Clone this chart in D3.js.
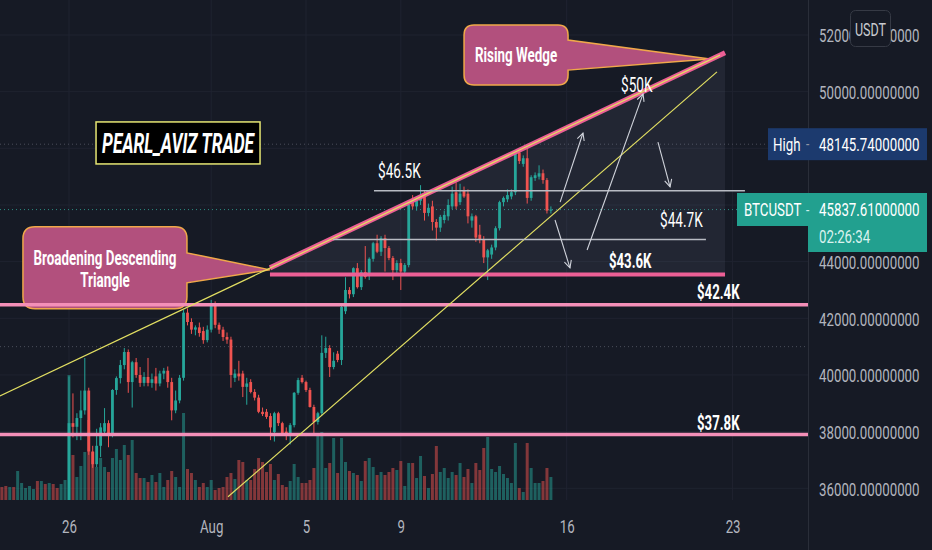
<!DOCTYPE html>
<html>
<head>
<meta charset="utf-8">
<script src="https://cdn.jsdelivr.net/npm/d3@7.9.0/dist/d3.min.js"></script>
<style>
  html, body { margin: 0; padding: 0; background: #161a25; overflow: hidden; }
  svg { display: block; }
  text { font-family: Roboto, "Noto Sans", sans-serif; }
</style>
</head>
<body>
<svg id="chart" width="932" height="550"></svg>
<script>
// ---------------------- Data ----------------------
// BTCUSDT 4h candles, first one opens 2021-07-23 04:00
const candleStart = '2021-07-23T04:00';
const candleHours = 4;

// [open, high, low, close]
const ohlc = [
  [32300, 32500, 32050, 32100], [32100, 32250, 31900, 32000], [32000, 32400, 31950, 32300],
  [32300, 32450, 32150, 32200], [32200, 33400, 32150, 33300], [33300, 33700, 33200, 33600],
  [33600, 33800, 33450, 33700], [33700, 33900, 33500, 33800], [33800, 34000, 33650, 33900],
  [33900, 34000, 33300, 33450], [33450, 34100, 33400, 34000], [34000, 34100, 33750, 33850],
  [33850, 34300, 33800, 34200], [34200, 34300, 33900, 34000], [34000, 34100, 33800, 33900],
  [33900, 34500, 33850, 34400], [34400, 35500, 34300, 35400],
  // Jul 26
  [35400, 39950, 35250, 38300], [38300, 39350, 37800, 38170], [38170, 38650, 37700, 38480],
  [38480, 39450, 37700, 38750], [38750, 40600, 38600, 39450], [39450, 39550, 37180, 37300],
  [37300, 37500, 36720, 36850], [36850, 38100, 36750, 37500], [37500, 38300, 37100, 38150],
  [38000, 38830, 37900, 38300], [38300, 38400, 37450, 37880], [37880, 39500, 37800, 39470],
  [39470, 39950, 39300, 39890], [39890, 40530, 39700, 40350], [40350, 40950, 40200, 40810],
  [40810, 40900, 39370, 39750], [39750, 40500, 38850, 40450], [40450, 40600, 39900, 40000],
  [40000, 40280, 39580, 39720], [39720, 40100, 39600, 39930], [39930, 40600, 39600, 39720],
  [39720, 40050, 39550, 39850], [39950, 40250, 39450, 39700], [39700, 40150, 39600, 40050],
  [40050, 40250, 39850, 40150], [40150, 40300, 39550, 39750], [39750, 39900, 38400, 38750],
  [38750, 39450, 38650, 39100], [39100, 40000, 39000, 39900], [39900, 42300, 39800, 42200],
  [42200, 42350, 41750, 41870], [41870, 42000, 41450, 41600], [41600, 41750, 41400, 41680],
  [41680, 41850, 41350, 41480], [41550, 41700, 41100, 41230], [41230, 41750, 41150, 41600],
  // Aug 1
  [41600, 42650, 41500, 42450], [42450, 42600, 41650, 41770], [41770, 41850, 41450, 41600],
  [41600, 41700, 41200, 41340], [41340, 41500, 41100, 41250], [41250, 41350, 39550, 40000],
  [39900, 40200, 39750, 40050], [40050, 40500, 39800, 39950], [40050, 40150, 39220, 39580],
  [39580, 39900, 38950, 39700], [39750, 39850, 39350, 39400], [39400, 39500, 39100, 39200],
  [39200, 39300, 38650, 38700], [38700, 38850, 38550, 38620], [38700, 38800, 38450, 38520],
  [38550, 38650, 37700, 38150], [37980, 38700, 37650, 38650], [38650, 38700, 38200, 38300],
  [38300, 38350, 37850, 37950], [38000, 38150, 37700, 37950], [37950, 38300, 37550, 38230],
  [38230, 39400, 38150, 39370], [39370, 39900, 39300, 39820], [39900, 40000, 39700, 39750],
  [39750, 39800, 39400, 39470], [39470, 39550, 38850, 38870], [38870, 38950, 37950, 38340],
  [38340, 38700, 38250, 38650], [38650, 41400, 38550, 40780], [40780, 41350, 40600, 40950],
  [40950, 41050, 39930, 40280], [40280, 40800, 40200, 40500], [40750, 40850, 40450, 40530],
  [40530, 42450, 40350, 42400], [42250, 43450, 42150, 43000], [43000, 43100, 42700, 42850],
  [42850, 43800, 42750, 43770], [43770, 43950, 43050, 43100], [43100, 43700, 43000, 43630],
  [43630, 44550, 43400, 43460], [43600, 44150, 43350, 44100], [44100, 44700, 44000, 44650],
  [44650, 44950, 44300, 44350], [44350, 44900, 44200, 44830], [44830, 44950, 43650, 44480],
  [44480, 44550, 44050, 44130], [44130, 44200, 43350, 43700], [43700, 44050, 43600, 43950],
  [43950, 44100, 43000, 43650], [43650, 43950, 43550, 43880], [43880, 46150, 43800, 46000],
  [46100, 46350, 45850, 45950], [45950, 46250, 45800, 46150], [46150, 46700, 46000, 46300],
  [46350, 46500, 45450, 45720], [45720, 46050, 45600, 45900], [45950, 46150, 45100, 45400],
  [45400, 45500, 44750, 45200], [45200, 45650, 45050, 45580], [45470, 45800, 45350, 45650],
  [45600, 46200, 45450, 46000], [45950, 46650, 45850, 46400], [46450, 46800, 45850, 45950],
  [46100, 46750, 46000, 46400], [46500, 46650, 46250, 46300], [46400, 46550, 45350, 45600],
  [45450, 45700, 45200, 45600], [45600, 45650, 44700, 44850], [44950, 45300, 44650, 44800],
  [44800, 44900, 43950, 44150], [44150, 44450, 43350, 44400], [44250, 44600, 44100, 44500],
  [44500, 45250, 44400, 45180], [45180, 46150, 45100, 46100], [46100, 46300, 45950, 46250],
  [46200, 46550, 46100, 46350], [46300, 46550, 46200, 46450], [46450, 47900, 46350, 47850],
  [47850, 47950, 47450, 47550], [47450, 47750, 47350, 47650], [47650, 48145.74, 46050, 46250],
  [46250, 47050, 46150, 46980], [46950, 47150, 46850, 47050], [47000, 47400, 46900, 47120],
  [47120, 47250, 46750, 46880], [46880, 46950, 45700, 45800], [45800, 45950, 45700, 45837.61]
];

const volumes = [
  1300, 1400, 1300, 1300, 2900, 1700, 1200, 1400, 1100, 1900, 1900, 1600, 1700, 1600, 1200, 1600, 2000,
  12500, 4500, 2300, 3400, 4800, 8000, 4800, 3300, 4200, 3300,
  2800, 4200, 5100, 4000, 5500, 4500, 6000, 2700, 2200, 2200,
  1800, 2500, 1800, 2700, 1300, 2000, 2900, 2300, 1300, 8700,
  3100, 2700, 2000, 1300, 1700, 1300, 2000, 1000, 1200, 1300,
  2300, 2700, 2100, 4000, 3800, 2000, 2000, 3100, 4200, 3800,
  2800, 3600, 2000, 2600, 1500, 1300, 1900, 3600, 2300, 1700,
  1700, 2000, 3200, 6500, 6800, 3200, 3700, 6200, 2700, 6200,
  3800, 2900, 2700, 2500, 1900, 3900, 4200, 3300, 2500, 2800,
  2500, 2800, 3200, 3000, 3900, 1400, 3700, 3700, 2200, 4400,
  2400, 1200, 2600, 5400, 2800, 3200, 2200, 2800, 2500, 3700,
  2300, 3100, 1700, 3700, 3000, 5200, 6300, 3100, 2800, 3400,
  2600, 2200, 1700, 5700, 1200, 800, 5700, 3200, 1700, 1700,
  1900, 3200, 2300
];

const priceTicks = [36000, 38000, 40000, 42000, 44000, 46000, 48000, 50000, 52000];
const timeTicks = ['2021-07-26T00:00', '2021-08-01T00:00', '2021-08-05T00:00', '2021-08-09T00:00', '2021-08-16T00:00', '2021-08-23T00:00'];
const timeLabels = ['26', 'Aug', '5', '9', '16', '23'];

const highPrice = 48145.74;
const lastPrice = 45837.61;
const lastCountdown = '02:26:34';
const dottedLevel = 41000;

// drawings: [time, price]
const wedgeUpper = [['2021-08-03T11:30', 43780], ['2021-08-22T16:20', 51370]];
const wedgeBase = [['2021-08-03T11:30', 43550], ['2021-08-22T16:20', 43550]];
const trendUpper = [['2021-07-23T02:00', 39260], ['2021-08-22T11:15', 51290]];
const trendLower = [['2021-08-01T17:00', 35700], ['2021-08-22T08:10', 50700]];
const supportLevels = [42480, 37900];
const rangeLines = [
  ['2021-08-07T20:50', '2021-08-23T12:30', 46500],
  ['2021-08-06T03:20', '2021-08-21T21:00', 44780]
];
const arrowPaths = [
  [['2021-08-15T17:20', 46100], ['2021-08-16T16:30', 48540]],
  [['2021-08-16T20:40', 44410], ['2021-08-19T05:20', 49920]],
  [['2021-08-19T20:25', 48220], ['2021-08-20T08:40', 46640]],
  [['2021-08-15T12:10', 45470], ['2021-08-16T03:20', 43780]]
];
const priceNotes = [
  { text: '$50K', at: ['2021-08-18T07:00', 50000], bold: false },
  { text: '$46.5K', at: ['2021-08-08T01:00', 46950], bold: false },
  { text: '$44.7K', at: ['2021-08-19T22:30', 45220], bold: false },
  { text: '$43.6K', at: ['2021-08-17T18:45', 43780], bold: true },
  { text: '$42.4K', at: ['2021-08-21T12:00', 42680], bold: true },
  { text: '$37.8K', at: ['2021-08-21T12:00', 38060], bold: true }
];
const callouts = [
  { lines: ['Rising Wedge'], tip: ['2021-08-22T01:10', 51150] },
  { lines: ['Broadening Descending', 'Triangle'], tip: ['2021-08-03T11:30', 43710] }
];
const watermark = { text: 'PEARL_AVIZ TRADE', at: ['2021-07-30T14:25', 48190] };

// ---------------------- Setup ----------------------
const plotRight = 808, plotBottom = 500;
const svg = d3.select('#chart');
const T = s => new Date(s);

const x = d3.scaleTime()
  .domain([T('2021-07-26T00:00'), T('2021-08-16T00:00')])
  .range([69, 566.7]);
const y = d3.scaleLinear().domain([36000, 52000]).range([488.3, 35]);
const yVol = d3.scaleLinear().domain([0, d3.max(volumes)]).range([plotBottom, 375]);

const step = candleHours * 3600 * 1000;
const candles = ohlc.map(([o, h, l, c], i) => ({
  t: new Date(+T(candleStart) + i * step), o, h, l, c, v: volumes[i], up: c >= o
}));

const px = p => x(T(p[0]));
const py = p => y(p[1]);

function label(g, lx, ly, str, o = {}) {
  return g.append('text')
    .attr('transform', `translate(${lx},${ly}) scale(${o.sx ?? 0.68},1)`)
    .attr('text-anchor', o.anchor ?? 'start')
    .attr('font-size', o.size ?? 20)
    .attr('font-weight', o.weight ?? 400)
    .attr('font-style', o.style ?? 'normal')
    .attr('fill', o.fill ?? '#ffffff')
    .text(str);
}

svg.append('rect').attr('width', 932).attr('height', 550).attr('fill', '#161a25');

const defs = svg.append('defs');
defs.append('clipPath').attr('id', 'plot-clip')
  .append('rect').attr('width', plotRight).attr('height', plotBottom);
defs.append('marker')
  .attr('id', 'arrow').attr('viewBox', '0 0 10 10')
  .attr('refX', 9).attr('refY', 5)
  .attr('markerWidth', 9).attr('markerHeight', 9)
  .attr('markerUnits', 'userSpaceOnUse').attr('orient', 'auto')
  .append('path').attr('d', 'M1,1 L9,5 L1,9')
  .attr('fill', 'none').attr('stroke', '#d1d4dc').attr('stroke-width', 1.2);

const plot = svg.append('g').attr('clip-path', 'url(#plot-clip)');

// ---------------------- Grid ----------------------
plot.append('g').selectAll('line').data(priceTicks).join('line')
  .attr('x1', 0).attr('x2', plotRight)
  .attr('y1', d => y(d)).attr('y2', d => y(d))
  .attr('stroke', '#1f2330').attr('stroke-width', 1);
plot.append('g').selectAll('line').data(timeTicks).join('line')
  .attr('x1', d => x(T(d))).attr('x2', d => x(T(d)))
  .attr('y1', 0).attr('y2', plotBottom)
  .attr('stroke', '#1f2330').attr('stroke-width', 1);

plot.append('g').selectAll('line').data([highPrice, lastPrice, dottedLevel]).join('line')
  .attr('x1', 0).attr('x2', plotRight)
  .attr('y1', d => y(d)).attr('y2', d => y(d))
  .attr('stroke', (d, i) => i === 1 ? '#2c8a80' : '#4a4e5a')
  .attr('stroke-dasharray', '1,3').attr('stroke-width', 1);

// ---------------------- Wedge shading ----------------------
plot.append('path')
  .attr('d', d3.line()([
    [px(wedgeUpper[0]), py(wedgeUpper[0])],
    [px(wedgeUpper[1]), py(wedgeUpper[1])],
    [px(wedgeBase[1]), py(wedgeBase[1])],
    [px(wedgeBase[0]), py(wedgeBase[0])]
  ]) + 'Z')
  .attr('fill', 'rgba(160,170,195,0.09)');

// ---------------------- Volume ----------------------
plot.append('g').selectAll('rect').data(candles).join('rect')
  .attr('x', d => x(d.t) - 1.5)
  .attr('width', 3)
  .attr('y', d => yVol(d.v))
  .attr('height', d => plotBottom - yVol(d.v))
  .attr('fill', d => d.up ? 'rgba(38,166,154,0.5)' : 'rgba(239,83,80,0.5)');

// ---------------------- Candles ----------------------
const cg = plot.append('g').selectAll('g').data(candles).join('g');
cg.append('line')
  .attr('x1', d => x(d.t)).attr('x2', d => x(d.t))
  .attr('y1', d => y(d.h)).attr('y2', d => y(d.l))
  .attr('stroke', d => d.up ? '#26a69a' : '#ef5350').attr('stroke-width', 1);
cg.append('rect')
  .attr('x', d => x(d.t) - 1.4)
  .attr('width', 2.8)
  .attr('y', d => y(Math.max(d.o, d.c)))
  .attr('height', d => Math.max(1, Math.abs(y(d.o) - y(d.c))))
  .attr('fill', d => d.up ? '#26a69a' : '#ef5350');

// ---------------------- Callouts ----------------------
const calloutBoxes = [
  { dx0: -246, dx1: -142, dy0: -34, dy1: 26, p0: -19, p1: 11, r: 10, base: [7] },
  { dx0: -247, dx1: -83, dy0: -43, dy1: 39, p0: -17, p1: 13, r: 12, base: [-3, 19] }
];
function calloutPath(x0, y0, x1, y1, r, q0, q1, tx, ty) {
  return `M${x0 + r},${y0} H${x1 - r} Q${x1},${y0} ${x1},${y0 + r} V${q0} L${tx},${ty} L${x1},${q1} ` +
    `V${y1 - r} Q${x1},${y1} ${x1 - r},${y1} H${x0 + r} Q${x0},${y1} ${x0},${y1 - r} V${y0 + r} Q${x0},${y0} ${x0 + r},${y0} Z`;
}
const notes = svg.append('g');
callouts.forEach((c, k) => {
  const b = calloutBoxes[k];
  const tx = px(c.tip), ty = py(c.tip);
  const x0 = tx + b.dx0, x1 = tx + b.dx1, y0 = ty + b.dy0, y1 = ty + b.dy1;
  notes.append('path')
    .attr('d', calloutPath(x0, y0, x1, y1, b.r, ty + b.p0, ty + b.p1, tx, ty))
    .attr('fill', '#b2507d').attr('stroke', '#f0a84a').attr('stroke-width', 1.5);
  const cy = (y0 + y1) / 2;
  c.lines.forEach((s, j) => label(notes, (x0 + x1) / 2, cy + b.base[j], s,
    { size: 20, weight: 700, sx: 0.67, anchor: 'middle' }));
});

// ---------------------- Drawings ----------------------
const draw = svg.append('g').attr('clip-path', 'url(#plot-clip)');
const seg = (g, a, b) => g.append('line')
  .attr('x1', px(a)).attr('y1', py(a)).attr('x2', px(b)).attr('y2', py(b));

seg(draw, wedgeUpper[0], wedgeUpper[1]).attr('stroke', '#ec5f95').attr('stroke-width', 5).attr('stroke-linecap', 'butt');
seg(draw, wedgeBase[0], wedgeBase[1]).attr('stroke', '#ec5f95').attr('stroke-width', 4);
draw.append('g').selectAll('line').data(supportLevels).join('line')
  .attr('x1', 0).attr('x2', plotRight)
  .attr('y1', d => y(d)).attr('y2', d => y(d))
  .attr('stroke', '#f48fb8').attr('stroke-width', 3.5);

seg(draw, trendUpper[0], trendUpper[1]).attr('stroke', '#e2df62').attr('stroke-width', 1.2);
seg(draw, trendLower[0], trendLower[1]).attr('stroke', '#e2df62').attr('stroke-width', 1.2);

rangeLines.forEach(([a, b, p]) => {
  draw.append('line')
    .attr('x1', x(T(a))).attr('x2', x(T(b)))
    .attr('y1', y(p)).attr('y2', y(p))
    .attr('stroke', '#b8bbc3').attr('stroke-width', 1.5);
});

arrowPaths.forEach(([a, b]) => {
  seg(draw, a, b).attr('stroke', '#d1d4dc').attr('stroke-width', 1.1).attr('marker-end', 'url(#arrow)');
});

priceNotes.forEach(n => {
  label(draw, px(n.at), py(n.at), n.text,
    { size: 20, weight: n.bold ? 700 : 400, sx: n.bold ? 0.66 : 0.68 });
});

// watermark box
const wx = px(watermark.at), wy = py(watermark.at);
svg.append('rect')
  .attr('x', wx - 82).attr('y', wy - 21).attr('width', 164).attr('height', 42)
  .attr('fill', '#000000').attr('stroke', '#e6e673').attr('stroke-width', 1.5);
label(svg, wx, wy + 10, watermark.text, { size: 27, weight: 700, style: 'italic', sx: 0.64, anchor: 'middle' });

// ---------------------- Axes ----------------------
svg.append('line')
  .attr('x1', plotRight + 0.5).attr('x2', plotRight + 0.5).attr('y1', 0).attr('y2', 550)
  .attr('stroke', '#2a2e39');

// ticks hidden behind the High / last-price labels are not printed
const hy = y(highPrice), ly = y(lastPrice);
const labelTicks = priceTicks.filter(p => Math.abs(y(p) - hy) > 16 && !(y(p) > ly - 17 && y(p) < ly + 43));

const yAxis = svg.append('g')
  .attr('transform', `translate(${plotRight},0)`)
  .call(d3.axisRight(y).tickValues(labelTicks).tickSize(0).tickFormat(d => d.toFixed(8)));
yAxis.select('.domain').remove();
yAxis.selectAll('text')
  .attr('x', null).attr('dy', null)
  .attr('transform', 'translate(11,6.8) scale(0.7,1)')
  .attr('fill', '#b2b5be').attr('font-size', 19)
  .attr('font-family', 'Roboto, sans-serif');

const xAxis = svg.append('g')
  .attr('transform', `translate(0,${plotBottom})`)
  .call(d3.axisBottom(x).tickValues(timeTicks.map(T)).tickSize(0).tickFormat((d, i) => timeLabels[i]));
xAxis.select('.domain').remove();
xAxis.selectAll('text')
  .attr('y', null).attr('dy', null)
  .attr('transform', 'translate(0,33) scale(0.7,1)')
  .attr('fill', '#b2b5be').attr('font-size', 19)
  .attr('font-family', 'Roboto, sans-serif');

// USDT unit box
svg.append('rect').attr('x', 850.5).attr('y', 10.5).attr('width', 40).attr('height', 36).attr('rx', 5)
  .attr('fill', '#161a25').attr('stroke', '#363a45');
label(svg, 870.5, 36, 'USDT', { size: 19, sx: 0.66, anchor: 'middle', fill: '#c8cad0' });

// High label
svg.append('rect').attr('x', 768).attr('y', hy - 16).attr('width', 159).attr('height', 32)
  .attr('fill', '#1c3a6e');
label(svg, 773, hy + 6.8, 'High', { size: 19, sx: 0.7 });
label(svg, 806, hy + 6, '-', { size: 17, sx: 0.7, fill: '#8f95a3' });
label(svg, 819, hy + 6.8, highPrice.toFixed(8), { size: 19, sx: 0.7 });

// last price label
svg.append('path')
  .attr('d', `M737,${ly - 16.5} H927 V${ly + 42.5} H808 V${ly + 16.5} H737 Z`)
  .attr('fill', '#22a08f');
label(svg, 744, ly + 6.8, 'BTCUSDT', { size: 19, sx: 0.7 });
label(svg, 806, ly + 6, '-', { size: 17, sx: 0.7, fill: '#cfeeea' });
label(svg, 819, ly + 6.8, lastPrice.toFixed(8), { size: 19, sx: 0.7 });
label(svg, 819, ly + 33.5, lastCountdown, { size: 19, sx: 0.7, fill: '#d9f2ee' });
</script>
</body>
</html>
